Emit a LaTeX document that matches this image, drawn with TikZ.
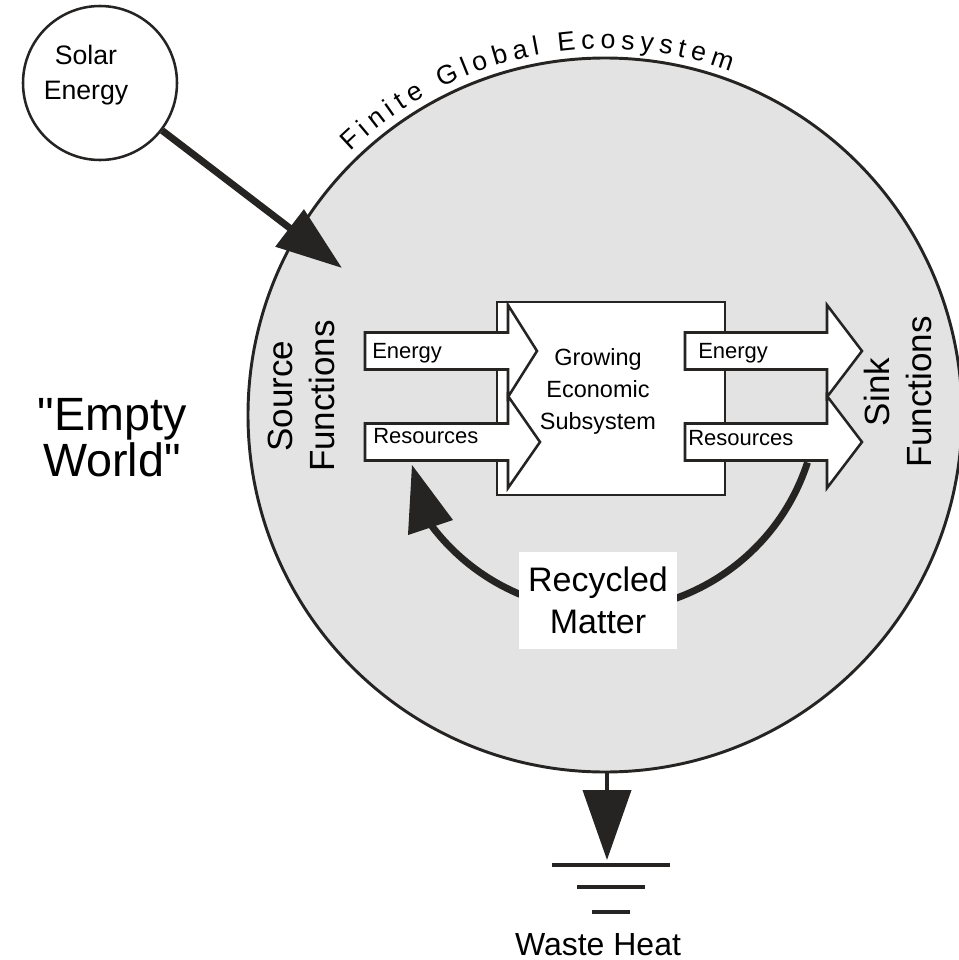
\documentclass[tikz,border=0pt]{standalone}
\usepackage{fontspec}
\setmainfont{Liberation Sans}
% plain family without TeX ligature mapping, so that " stays a straight quote
\newfontfamily\plainsans{Liberation Sans}
\usetikzlibrary{arrows.meta,decorations.text}

\definecolor{ink}{HTML}{262423}
\definecolor{ecofill}{HTML}{E3E3E3}
\newcommand{\fsz}[2]{\fontsize{#1}{#2}\selectfont}
\newcommand{\arcfont}{\fontsize{20}{22}\selectfont}

\begin{document}
\begin{tikzpicture}[x=0.75pt,y=-0.75pt,
  ring/.style={circle, draw=ink, inner sep=0pt},
  barrow/.style={draw=ink, fill=white, line width=1.9pt, line join=miter},
  alabel/.style={inner sep=0pt, anchor=base west, font=\fsz{16.5}{20}},
  flow/.style={draw=ink, line width=5.2pt},
  groundline/.style={draw=ink, line width=3pt}
]
\useasboundingbox (0,0) rectangle (958,960);

% the finite global ecosystem
\node[ring, fill=ecofill, line width=2.2pt, minimum size=535.5pt] (eco) at (605,415) {};
\path[decorate, decoration={text along path, text align={fit to path},
    text={|\arcfont|Finite Global Ecosystem}}]
  (605,415) ++(-134:366) arc[start angle=-134, end angle=-70, radius=366];

% the sun and its inflow
\node[ring, line width=1.9pt, minimum size=115.5pt] (solar) at (100,83) {};
\node[align=center, font=\fsz{20}{26}] (solarlbl) at (86,75) {Solar\\Energy};
\coordinate (sunhit) at (342,268);
\draw[flow, -{Triangle[length=49.5pt,width=34pt]}] (solar) -- (sunhit);

% economic subsystem
\node[draw=ink, fill=white, line width=2.2pt, minimum width=171pt,
      minimum height=144.75pt, inner sep=0pt] (econ) at (611,398.5) {};
\node[align=center, font=\fsz{17.6}{24}] (econlbl) at (598,391)
  {Growing\\Economic\\Subsystem};

% recycled matter loop
\coordinate (rc) at (603,396);
\draw[flow] (rc) ++(18:215) arc[start angle=18, end angle=143, radius=215];
\fill[ink] (412,465) -- (408,535) -- (453,520) -- cycle;
\node[fill=white, minimum width=118.5pt, minimum height=72.75pt, inner sep=0pt,
      align=center, font=\fsz{25.5}{31.5}] (recyc) at (598,600) {Recycled\\Matter};

% throughput block arrows
\foreach \xa/\xb/\xt/\yc in {365/508/537/351, 365/508/540/442,
                             685/827/862/351, 685/827/862/442} {
  \draw[barrow] (\xa,\yc-18.5) -- (\xb,\yc-18.5) -- (\xb,\yc-46) -- (\xt,\yc)
    -- (\xb,\yc+46) -- (\xb,\yc+18.5) -- (\xa,\yc+18.5) -- cycle;
}
\node[alabel] (inE) at (372,358) {Energy};
\node[alabel] (inR) at (373,443) {Resources};
\node[alabel] (outE) at (698,358) {Energy};
\node[alabel] (outR) at (688,445) {Resources};

% side labels
\node[rotate=90, align=center, font=\fsz{26.25}{31.5}] (source) at (301.5,396)
  {Source\\Functions};
\node[rotate=90, align=center, font=\fsz{26.25}{31.5}] (sink) at (897.5,392)
  {Sink\\Functions};
\node[align=center, font=\plainsans\fsz{35}{34.5}] (empty) at (112,438)
  {"Empty\\World"};

% waste heat outflow to ground
\coordinate (heattip) at (607,860);
\draw[draw=ink, line width=3pt, -{Triangle[length=52.5pt,width=36pt]}]
  (eco.south -| heattip) -- (heattip);
\draw[groundline] (552,865) -- (670,865);
\draw[groundline] (577,887) -- (645,887);
\draw[groundline] (592,912) -- (630,912);
\node[anchor=base, inner sep=0pt, font=\fsz{24}{28}] (waste) at (598,955) {Waste Heat};
\end{tikzpicture}
\end{document}
